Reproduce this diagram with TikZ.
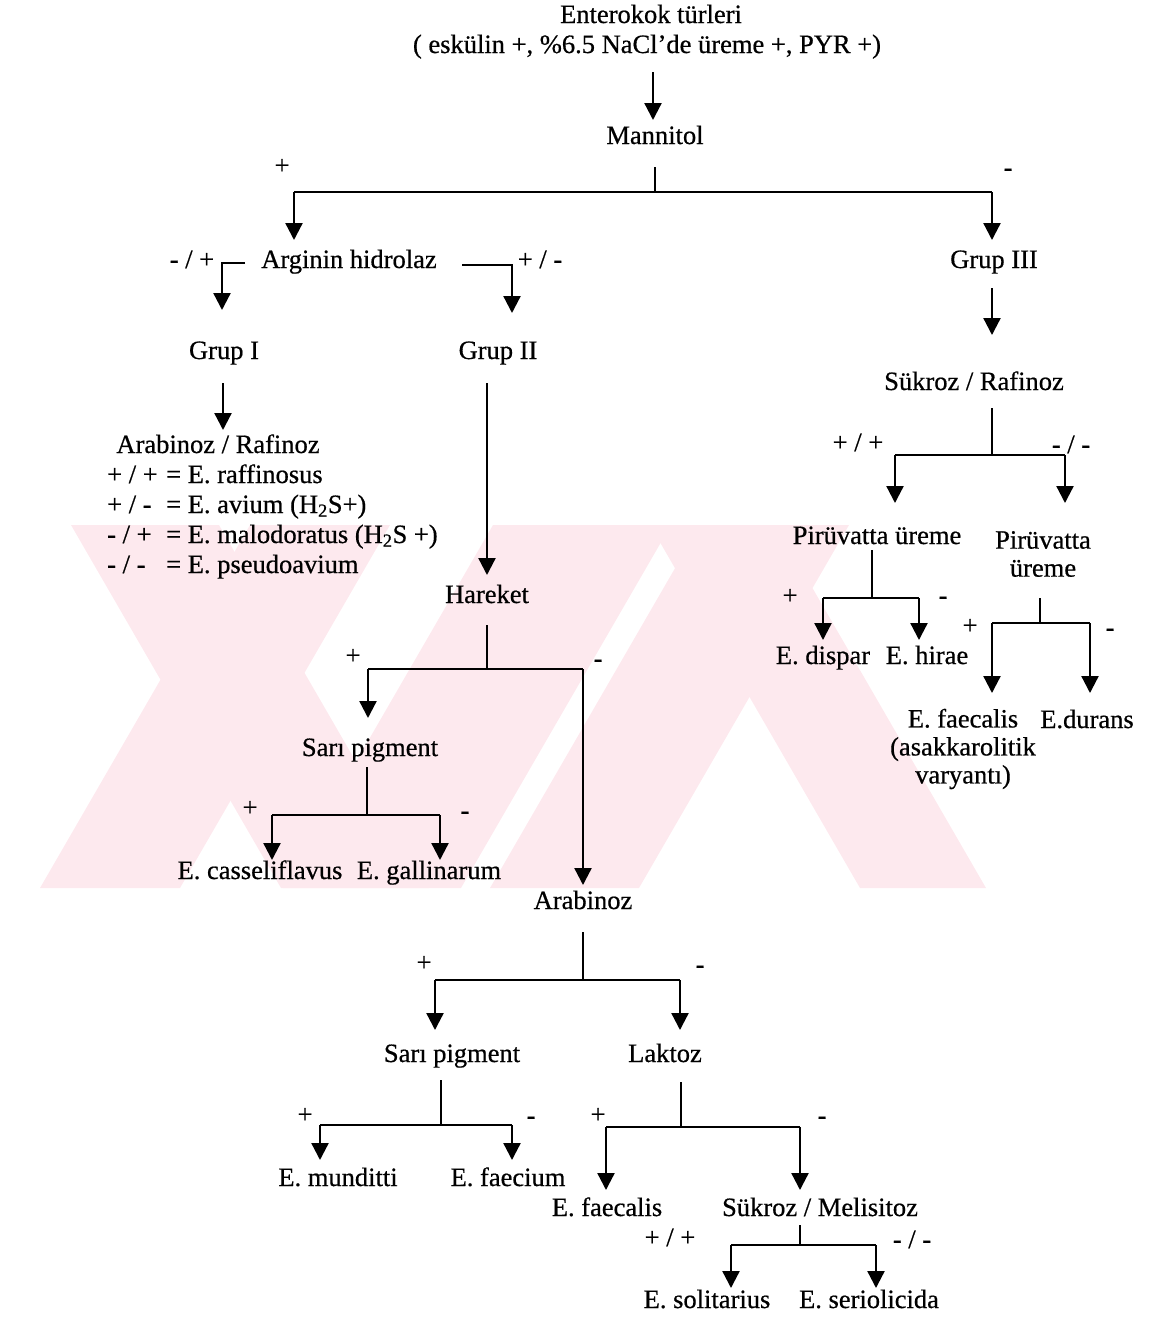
\documentclass[tikz,border=0pt]{standalone}
\usepackage{fontspec}
\setmainfont{Liberation Serif}[FakeBold=0.6]
\usetikzlibrary{arrows.meta}
\definecolor{wm}{RGB}{253,233,238}
\begin{document}
\begin{tikzpicture}[x=1pt,y=-1pt,
  txt/.style={inner sep=0pt, font=\fontsize{26.5}{30}\selectfont, text height=18pt, text depth=6pt},
  txtml/.style={inner sep=0pt, font=\fontsize{26.5}{28}\selectfont, align=center},
  sgn/.style={inner sep=0pt, font=\fontsize{26.5}{30}\selectfont, text height=18pt, text depth=6pt},
  ln/.style={line width=2.3pt},
  arr/.style={line width=2.3pt, line join=miter, -{Triangle[length=17pt,width=17pt]}},
]
\useasboundingbox (0,0) rectangle (1151,1318);
% faint watermark
\begin{scope}
\clip (0,525) rectangle (1030,888);
\fill[wm] (250,525) -- (390,525) -- (180,888) -- (40,888) -- cycle;
\fill[wm] (71,525) -- (219,525) -- (429,888) -- (281,888) -- cycle;
\fill[wm] (493,525) -- (671,525) -- (461,888) -- (283,888) -- cycle;
\fill[wm] (700,525) -- (849,525) -- (639,888) -- (490,888) -- cycle;
\fill[wm] (650,525) -- (776,525) -- (986,888) -- (860,888) -- cycle;
\end{scope}

% top
\node[txt] (t1) at (651,17) {Enterokok türleri};
\node[txt] (t2) at (647,47) {( eskülin +, \%6.5 NaCl’de üreme +, PYR +)};
\coordinate (a0s) at (653,72); \coordinate (a0e) at (653,120);
\draw[arr] (a0s) -- (a0e);
\node[txt] (mannitol) at (655,138) {Mannitol};
\coordinate (m1) at (655,167); \coordinate (m2) at (655,192);
\coordinate (mL) at (294,192); \coordinate (mR) at (992,192);
\coordinate (mLt) at (294,240); \coordinate (mRt) at (992,240);
\draw[ln] (m1) -- (m2);
\draw[ln] (mL) -- (mR);
\draw[arr] (mL) -- (mLt);
\draw[arr] (mR) -- (mRt);
\node[sgn] (pm) at (282,168) {+};
\node[sgn] (mm) at (1008,170) {-};

% arginin
\node[txt] (arg) at (349,262) {Arginin hidrolaz};
\node[sgn] (argl) at (192,262) {- / +};
\node[sgn] (argr) at (540,262) {+ / -};
\coordinate (b1) at (245,263); \coordinate (b2) at (222,263); \coordinate (b3) at (222,310);
\draw[arr] (b1) -- (b2) -- (b3);
\coordinate (c1) at (462,265); \coordinate (c2) at (512,265); \coordinate (c3) at (512,313);
\draw[arr] (c1) -- (c2) -- (c3);
\node[txt] (g1) at (224,353) {Grup I};
\node[txt] (g2) at (498,353) {Grup II};
\coordinate (g1a) at (223,383); \coordinate (g1b) at (223,430);
\draw[arr] (g1a) -- (g1b);
\coordinate (g2a) at (487,383); \coordinate (g2b) at (487,575);
\draw[arr] (g2a) -- (g2b);

% Grup I list
\node[txt] (ar) at (218,447) {Arabinoz / Rafinoz};
\node[txt, anchor=west] (l1a) at (107,477) {+ / +};
\node[txt, anchor=west] (l1b) at (166,477) {= E. raffinosus};
\node[txt, anchor=west] (l2a) at (107,507) {+ / -};
\node[txt, anchor=west] (l2b) at (166,507) {= E. avium (H\textsubscript{2}S+)};
\node[txt, anchor=west] (l3a) at (107,537) {- / +};
\node[txt, anchor=west] (l3b) at (166,537) {= E. malodoratus (H\textsubscript{2}S +)};
\node[txt, anchor=west] (l4a) at (107,567) {- / -};
\node[txt, anchor=west] (l4b) at (166,567) {= E. pseudoavium};

% Hareket
\node[txt] (har) at (487,597) {Hareket};
\coordinate (h1) at (487,625); \coordinate (h2) at (487,669);
\coordinate (hL) at (368,669); \coordinate (hR) at (583,669);
\coordinate (hLt) at (368,718); \coordinate (hRt) at (583,885);
\draw[ln] (h1) -- (h2);
\draw[ln] (hL) -- (hR);
\draw[arr] (hL) -- (hLt);
\draw[arr] (hR) -- (hRt);
\node[sgn] (hp) at (353,658) {+};
\node[sgn] (hm) at (598,661) {-};

\node[txt] (sp1) at (370,750) {Sarı pigment};
\coordinate (s1) at (367,767); \coordinate (s2) at (367,815);
\coordinate (sL) at (272,815); \coordinate (sR) at (440,815);
\coordinate (sLt) at (272,860); \coordinate (sRt) at (440,860);
\draw[ln] (s1) -- (s2);
\draw[ln] (sL) -- (sR);
\draw[arr] (sL) -- (sLt);
\draw[arr] (sR) -- (sRt);
\node[sgn] (sp) at (250,810) {+};
\node[sgn] (sm) at (465,813) {-};
\node[txt] (cas) at (260,873) {E. casseliflavus};
\node[txt] (gal) at (429,873) {E. gallinarum};

% Arabinoz
\node[txt] (arab) at (583,903) {Arabinoz};
\coordinate (r1) at (583,932); \coordinate (r2) at (583,980);
\coordinate (rL) at (435,980); \coordinate (rR) at (680,980);
\coordinate (rLt) at (435,1030); \coordinate (rRt) at (680,1030);
\draw[ln] (r1) -- (r2);
\draw[ln] (rL) -- (rR);
\draw[arr] (rL) -- (rLt);
\draw[arr] (rR) -- (rRt);
\node[sgn] (rp) at (424,965) {+};
\node[sgn] (rm) at (700,967) {-};

\node[txt] (sp2) at (452,1056) {Sarı pigment};
\node[txt] (lak) at (665,1056) {Laktoz};
\coordinate (p1) at (441,1080); \coordinate (p2) at (441,1125);
\coordinate (pL) at (320,1125); \coordinate (pR) at (512,1125);
\coordinate (pLt) at (320,1160); \coordinate (pRt) at (512,1160);
\draw[ln] (p1) -- (p2);
\draw[ln] (pL) -- (pR);
\draw[arr] (pL) -- (pLt);
\draw[arr] (pR) -- (pRt);
\node[sgn] (pp) at (305,1117) {+};
\node[sgn] (pmn) at (531,1118) {-};
\node[txt] (mun) at (338,1180) {E. munditti};
\node[txt] (fcm) at (508,1180) {E. faecium};

\coordinate (k1) at (681,1082); \coordinate (k2) at (681,1127);
\coordinate (kL) at (606,1127); \coordinate (kR) at (800,1127);
\coordinate (kLt) at (606,1190); \coordinate (kRt) at (800,1190);
\draw[ln] (k1) -- (k2);
\draw[ln] (kL) -- (kR);
\draw[arr] (kL) -- (kLt);
\draw[arr] (kR) -- (kRt);
\node[sgn] (kp) at (598,1117) {+};
\node[sgn] (km) at (822,1118) {-};
\node[txt] (fcl) at (607,1210) {E. faecalis};
\node[txt] (sm2) at (820,1210) {Sükroz / Melisitoz};
\coordinate (u1) at (800,1225); \coordinate (u2) at (800,1245);
\coordinate (uL) at (731,1245); \coordinate (uR) at (876,1245);
\coordinate (uLt) at (731,1288); \coordinate (uRt) at (876,1288);
\draw[ln] (u1) -- (u2);
\draw[ln] (uL) -- (uR);
\draw[arr] (uL) -- (uLt);
\draw[arr] (uR) -- (uRt);
\node[sgn] (up) at (670,1240) {+ / +};
\node[sgn] (um) at (912,1242) {- / -};
\node[txt] (sol) at (707,1302) {E. solitarius};
\node[txt] (ser) at (869,1302) {E. seriolicida};

% right branch
\node[txt] (g3) at (994,262) {Grup III};
\coordinate (g3a) at (992,288); \coordinate (g3b) at (992,335);
\draw[arr] (g3a) -- (g3b);
\node[txt] (sr) at (974,384) {Sükroz / Rafinoz};
\coordinate (q1) at (992,408); \coordinate (q2) at (992,455);
\coordinate (qL) at (895,455); \coordinate (qR) at (1065,455);
\coordinate (qLt) at (895,503); \coordinate (qRt) at (1065,503);
\draw[ln] (q1) -- (q2);
\draw[ln] (qL) -- (qR);
\draw[arr] (qL) -- (qLt);
\draw[arr] (qR) -- (qRt);
\node[sgn] (qp) at (858,445) {+ / +};
\node[sgn] (qm) at (1071,447) {- / -};

\node[txt] (pu1) at (877,538) {Pirüvatta üreme};
\node[txtml] (pu2) at (1043,554) {Pirüvatta\\üreme};
\coordinate (v1) at (872,550); \coordinate (v2) at (872,598);
\coordinate (vL) at (823,598); \coordinate (vR) at (919,598);
\coordinate (vLt) at (823,640); \coordinate (vRt) at (919,640);
\draw[ln] (v1) -- (v2);
\draw[ln] (vL) -- (vR);
\draw[arr] (vL) -- (vLt);
\draw[arr] (vR) -- (vRt);
\node[sgn] (vp) at (790,598) {+};
\node[sgn] (vm) at (943,598) {-};
\node[txt] (dis) at (823,658) {E. dispar};
\node[txt] (hir) at (927,658) {E. hirae};

\coordinate (w1) at (1040,598); \coordinate (w2) at (1040,623);
\coordinate (wL) at (992,623); \coordinate (wR) at (1090,623);
\coordinate (wLt) at (992,693); \coordinate (wRt) at (1090,693);
\draw[ln] (w1) -- (w2);
\draw[ln] (wL) -- (wR);
\draw[arr] (wL) -- (wLt);
\draw[arr] (wR) -- (wRt);
\node[sgn] (wp) at (970,628) {+};
\node[sgn] (wmn) at (1110,630) {-};
\node[txtml] (fa2) at (963,749) {E. faecalis\\(asakkarolitik\\varyantı)};
\node[txt] (dur) at (1087,722) {E.durans};
\end{tikzpicture}
\end{document}
